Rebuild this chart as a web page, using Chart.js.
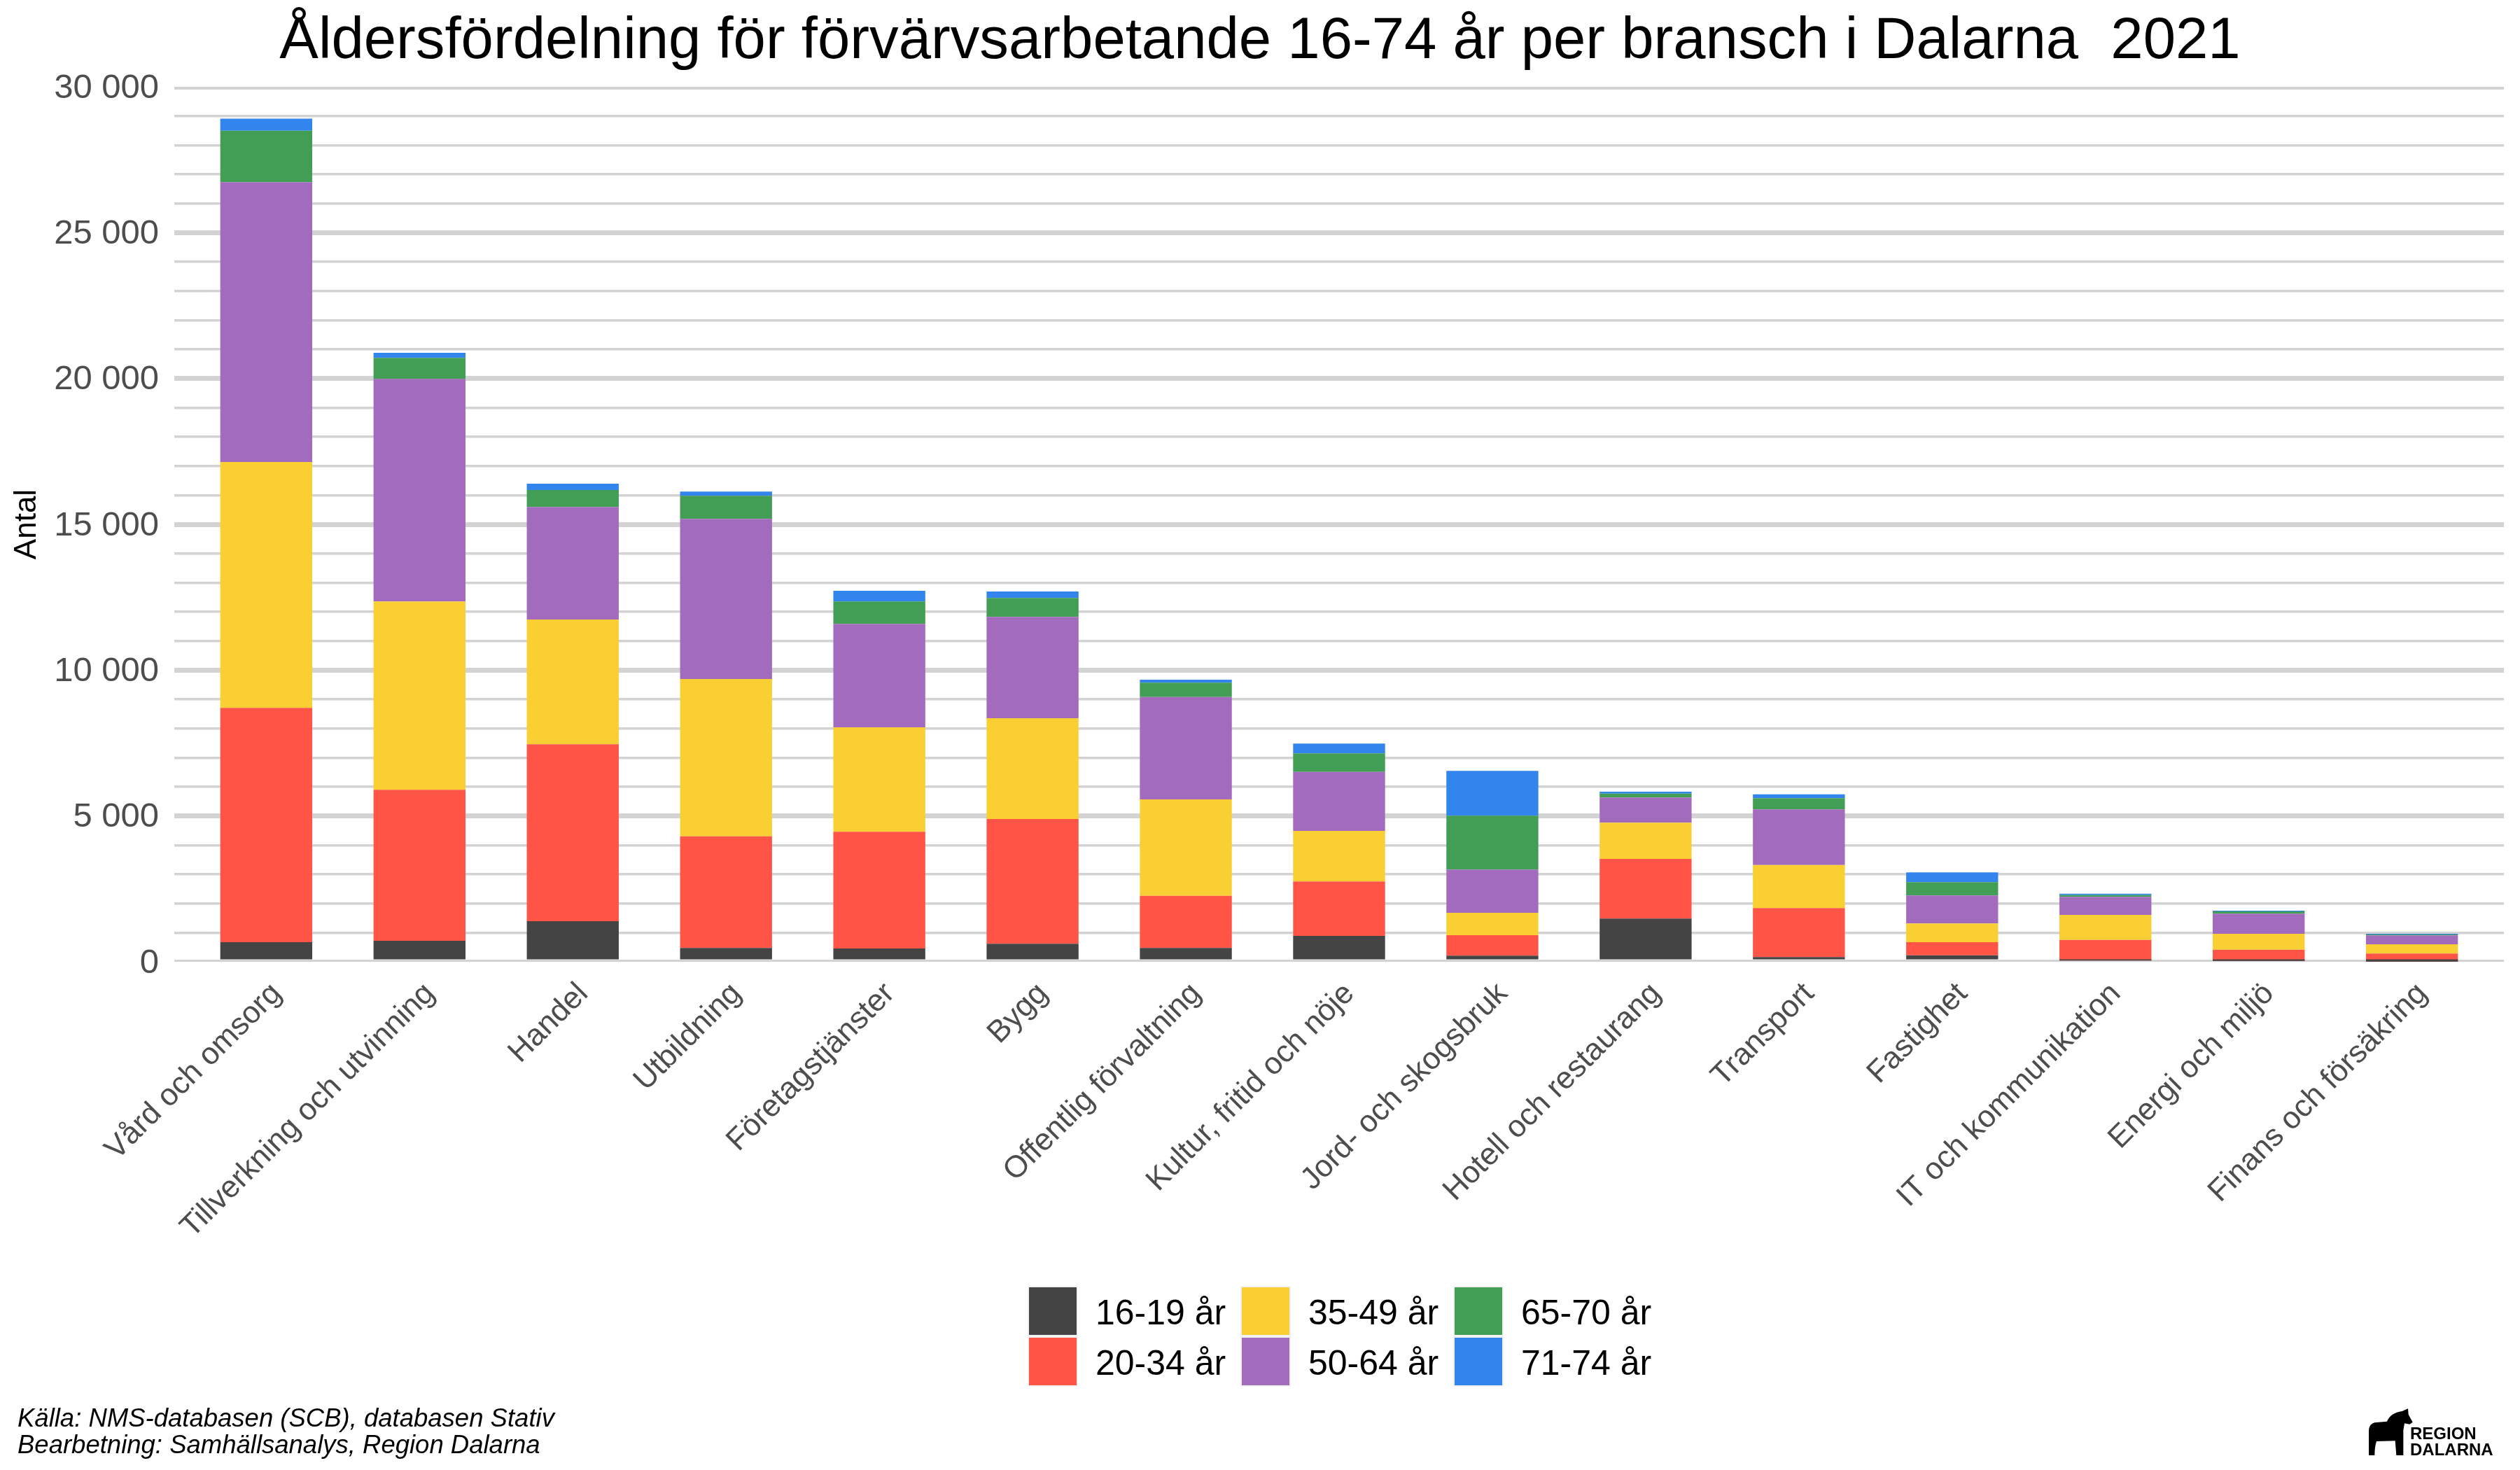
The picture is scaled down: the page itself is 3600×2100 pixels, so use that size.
<!DOCTYPE html>
<html lang="sv">
<head>
<meta charset="utf-8">
<title>Åldersfördelning</title>
<script src="https://cdn.jsdelivr.net/npm/chart.js@4/dist/chart.umd.js"></script>
<style>
  html, body { margin: 0; padding: 0; background: #fff; overflow: hidden; }
  canvas { display: block; }
</style>
</head>
<body>
<canvas id="chart" width="3600" height="2100"></canvas>
<script>
const chartTitle = 'Åldersfördelning för förvärvsarbetande 16-74 år per bransch i Dalarna  2021';
const yAxisTitle = 'Antal';
const sourceLines = ['Källa: NMS-databasen (SCB), databasen Stativ', 'Bearbetning: Samhällsanalys, Region Dalarna'];

const categories = [
  'Vård och omsorg', 'Tillverkning och utvinning', 'Handel', 'Utbildning', 'Företagstjänster',
  'Bygg', 'Offentlig förvaltning', 'Kultur, fritid och nöje', 'Jord- och skogsbruk',
  'Hotell och restaurang', 'Transport', 'Fastighet', 'IT och kommunikation',
  'Energi och miljö', 'Finans och försäkring',
];

const seriesNames = ['16-19 år', '20-34 år', '35-49 år', '50-64 år', '65-70 år', '71-74 år'];
const seriesColors = ['#444444', '#FF5446', '#FACF34', '#A36BBD', '#429E55', '#3285EC'];

// same order as categories
const age16to19 = [672, 720, 1392, 472, 456, 616, 472, 888, 208, 1480, 160, 224, 40, 32, 8];
const age20to34 = [8032, 5176, 6064, 3832, 4000, 4280, 1792, 1864, 704, 2048, 1680, 448, 712, 384, 272];
const age35to49 = [8432, 6456, 4280, 5392, 3584, 3456, 3304, 1736, 768, 1240, 1480, 640, 856, 544, 320];
const age50to64 = [9594, 7632, 3856, 5488, 3544, 3472, 3512, 2024, 1480, 864, 1904, 960, 616, 688, 304];
const age65to70 = [1767, 720, 584, 792, 768, 648, 488, 632, 1848, 136, 384, 456, 64, 80, 32];
const age71to74 = [409, 176, 216, 144, 368, 224, 104, 336, 1536, 64, 136, 336, 48, 24, 24];
const seriesValues = [age16to19, age20to34, age35to49, age50to64, age65to70, age71to74];

const textFont = '"Liberation Sans", Arial, sans-serif';
Chart.defaults.font.family = textFont;

// grid lines are half cut off at the panel edge
const clipGridEdges = {
  id: 'clipGridEdges',
  beforeDatasetsDraw(chart) {
    const { ctx, chartArea: a } = chart;
    ctx.save();
    ctx.fillStyle = '#ffffff';
    ctx.fillRect(a.left, a.top - 5, a.right - a.left, 5);
    ctx.fillRect(a.left, a.bottom, a.right - a.left, 5);
    ctx.restore();
  },
};

// two rows, filled column by column
const legendGrid = {
  id: 'legendGrid',
  afterDraw(chart) {
    const ctx = chart.ctx;
    ctx.save();
    ctx.textBaseline = 'alphabetic';
    ctx.textAlign = 'left';
    ctx.font = '50px ' + textFont;
    seriesNames.forEach((name, i) => {
      const x = 1468 + Math.floor(i / 2) * 304;
      const y = 1837 + (i % 2) * 72;
      ctx.fillStyle = '#f2f2f2';
      ctx.fillRect(x, y, 72, 72);
      ctx.fillStyle = seriesColors[i];
      ctx.fillRect(x + 2, y + 2, 68, 68);
      ctx.fillStyle = '#000000';
      ctx.fillText(name, x + 97, y + 55);
    });
    ctx.restore();
  },
};

const footer = {
  id: 'footer',
  afterDraw(chart) {
    const ctx = chart.ctx;
    ctx.save();
    ctx.fillStyle = '#000000';
    ctx.textBaseline = 'alphabetic';
    ctx.textAlign = 'left';
    ctx.font = 'italic 36.5px ' + textFont;
    ctx.fillText(sourceLines[0], 25, 2038);
    ctx.fillText(sourceLines[1], 25, 2076);

    // logo
    ctx.font = 'bold 24px ' + textFont;
    ctx.fillText('REGION', 3443, 2056);
    ctx.fillText('DALARNA', 3443, 2079);
    ctx.translate(3350, 1990);
    ctx.scale(1 / 3, 1 / 3);
    ctx.fill(new Path2D('M102 267 L102 165 Q102 128 135 126 L180 122 Q195 85 245 78 L270 67 L272 92 L290 125 L277 134 L255 130 L250 160 L250 267 L220 267 L215 205 L135 207 Q127 230 127 267 Z'));
    ctx.restore();
  },
};

new Chart(document.getElementById('chart').getContext('2d'), {
  type: 'bar',
  data: {
    datasets: seriesNames.map((name, i) => ({
      label: name,
      data: seriesValues[i].map((v, j) => ({ x: j + 1, y: v })),
      backgroundColor: seriesColors[i],
      borderWidth: 0,
      barPercentage: 0.6,
      categoryPercentage: 1,
    })),
  },
  plugins: [clipGridEdges, legendGrid, footer],
  options: {
    responsive: false,
    devicePixelRatio: 1,
    animation: false,
    layout: { padding: { left: 23, right: 23, top: 0, bottom: 0 } },
    plugins: {
      legend: { display: false },
      tooltip: { enabled: false },
      title: {
        display: true,
        text: chartTitle,
        color: '#000000',
        font: { size: 83.3, weight: 'normal', lineHeight: 1 },
        padding: { top: 18, bottom: 22.7 },
      },
    },
    scales: {
      x: {
        type: 'linear',
        stacked: true,
        offset: false,
        min: 0.4,
        max: 15.6,
        grid: { display: false, drawTicks: false },
        border: { display: false },
        ticks: {
          stepSize: 1,
          includeBounds: false,
          autoSkip: false,
          minRotation: 45,
          maxRotation: 45,
          padding: 20,
          labelOffset: 15,
          color: '#4d4d4d',
          font: { size: 44 },
          callback: (v) => categories[v - 1],
        },
        afterFit(scale) { scale.height = 726; },
      },
      y: {
        stacked: true,
        min: 0,
        max: 30000,
        grid: {
          color: '#d3d3d3',
          drawTicks: false,
          lineWidth: (c) => (c.tick.value % 5000 === 0 ? 7 : 3.5),
        },
        border: { display: false },
        title: {
          display: true,
          text: yAxisTitle,
          color: '#000000',
          font: { size: 44, lineHeight: 0.7 },
          padding: { top: 0, bottom: 0 },
        },
        ticks: {
          stepSize: 1000,
          autoSkip: false,
          padding: 22,
          labelOffset: 2,
          color: '#4d4d4d',
          font: { size: 49 },
          callback: (v) => (v % 5000 === 0 ? String(v).replace(/\B(?=(\d{3})+$)/g, ' ') : ''),
        },
        afterFit(scale) { scale.width = 226; },
      },
    },
  },
});
</script>
</body>
</html>
